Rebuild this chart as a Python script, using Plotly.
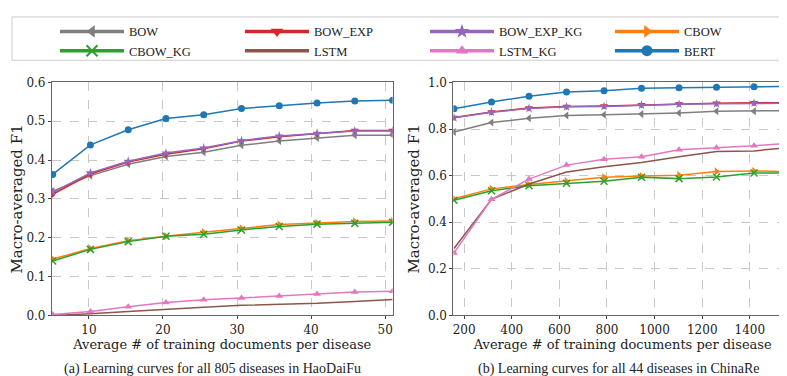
import plotly.graph_objects as go

# ---- data ----
x_left = [5.1, 10.2, 15.3, 20.4, 25.5, 30.6, 35.7, 40.8, 45.9, 51.0]
x_right = [157.5, 315, 472.5, 630, 787.5, 945, 1102.5, 1260, 1417.5, 1575]

series_names = ["BOW", "BOW_EXP", "BOW_EXP_KG", "CBOW", "CBOW_KG", "LSTM", "LSTM_KG", "BERT"]

left_BOW = [0.320, 0.360, 0.389, 0.409, 0.420, 0.438, 0.449, 0.457, 0.464, 0.464]
left_BOW_EXP = [0.312, 0.364, 0.395, 0.415, 0.429, 0.449, 0.460, 0.468, 0.476, 0.476]
left_BOW_EXP_KG = [0.317, 0.367, 0.397, 0.418, 0.431, 0.450, 0.462, 0.469, 0.475, 0.475]
left_CBOW = [0.145, 0.172, 0.192, 0.204, 0.214, 0.224, 0.234, 0.238, 0.242, 0.243]
left_CBOW_KG = [0.140, 0.170, 0.190, 0.204, 0.209, 0.220, 0.229, 0.235, 0.237, 0.240]
left_LSTM = [0.000, 0.004, 0.010, 0.016, 0.021, 0.026, 0.028, 0.031, 0.036, 0.041]
left_LSTM_KG = [0.002, 0.010, 0.022, 0.033, 0.040, 0.045, 0.050, 0.055, 0.060, 0.062]
left_BERT = [0.363, 0.439, 0.478, 0.507, 0.517, 0.533, 0.540, 0.547, 0.552, 0.554]

right_BOW = [0.787, 0.828, 0.846, 0.858, 0.861, 0.864, 0.869, 0.876, 0.876, 0.879]
right_BOW_EXP = [0.849, 0.873, 0.890, 0.897, 0.899, 0.904, 0.908, 0.911, 0.913, 0.912]
right_BOW_EXP_KG = [0.848, 0.872, 0.888, 0.895, 0.897, 0.902, 0.906, 0.908, 0.911, 0.911]
right_CBOW = [0.501, 0.543, 0.562, 0.576, 0.593, 0.598, 0.602, 0.618, 0.620, 0.617]
right_CBOW_KG = [0.494, 0.535, 0.556, 0.567, 0.576, 0.593, 0.587, 0.594, 0.611, 0.611]
right_LSTM = [0.287, 0.498, 0.564, 0.615, 0.638, 0.656, 0.681, 0.703, 0.706, 0.722]
right_LSTM_KG = [0.268, 0.498, 0.585, 0.645, 0.670, 0.681, 0.711, 0.719, 0.728, 0.740]
right_BERT = [0.887, 0.916, 0.941, 0.959, 0.964, 0.975, 0.977, 0.979, 0.981, 0.983]

left_data = [left_BOW, left_BOW_EXP, left_BOW_EXP_KG, left_CBOW, left_CBOW_KG, left_LSTM, left_LSTM_KG, left_BERT]
right_data = [right_BOW, right_BOW_EXP, right_BOW_EXP_KG, right_CBOW, right_CBOW_KG, right_LSTM, right_LSTM_KG, right_BERT]

x_title = "Average # of training documents per disease"
y_title = "Macro-averaged F1"
caption_left = "(a) Learning curves for all 805 diseases in HaoDaiFu"
caption_right = "(b) Learning curves for all 44 diseases in ChinaRe"

# ---- styles ----
colors = ["#7f7f7f", "#d62728", "#9467bd", "#ff7f0e", "#2ca02c", "#8c564b", "#e377c2", "#1f77b4"]
symbols = ["triangle-left", "triangle-down", "star", "triangle-right", "x-thin", None, "triangle-up", "circle"]

fig = go.Figure()

def marker_for(i, size, lw=1.5):
    sym = symbols[i]
    if sym is None:
        return dict(size=size, opacity=0)
    m = dict(symbol=sym, size=size, color=colors[i])
    if sym == "x-thin":
        m["line"] = dict(color=colors[i], width=lw)
    return m

for i, name in enumerate(series_names):
    mode = "lines" if symbols[i] is None else "lines+markers"
    fig.add_trace(go.Scatter(x=x_left, y=left_data[i], mode=mode, name=name,
                             line=dict(color=colors[i], width=1.5),
                             marker=marker_for(i, 7), showlegend=False,
                             xaxis="x", yaxis="y"))
    fig.add_trace(go.Scatter(x=x_right, y=right_data[i], mode=mode, name=name,
                             line=dict(color=colors[i], width=1.5),
                             marker=marker_for(i, 7), showlegend=False,
                             xaxis="x2", yaxis="y2"))

# legend-only traces with thicker lines
for i, name in enumerate(series_names):
    mode = "lines" if symbols[i] is None else "lines+markers"
    fig.add_trace(go.Scatter(x=[None], y=[None], mode=mode, name=name,
                             line=dict(color=colors[i], width=3.5),
                             marker=marker_for(i, 11, 2), showlegend=True,
                             xaxis="x", yaxis="y"))

axis_common = dict(
    showline=True, linecolor="#666", linewidth=1, mirror=True,
    showgrid=True, gridcolor="#c8c8c8", griddash="dash", gridwidth=1,
    ticks="outside", ticklen=3, tickcolor="#444",
    tickfont=dict(family="DejaVu Serif", size=12, color="#222"),
    zeroline=False,
)
xtitle_font = dict(family="DejaVu Serif", size=13, color="#222")
ytitle_font = dict(family="DejaVu Serif", size=15, color="#222")

fig.update_layout(
    width=787, height=376,
    margin=dict(l=0, r=0, t=0, b=0),
    paper_bgcolor="white", plot_bgcolor="white",
    xaxis=dict(domain=[0.0546, 0.488], range=[5.0, 51.0], tickvals=[10, 20, 30, 40, 50],
               title=dict(text=x_title, font=xtitle_font, standoff=3), **axis_common),
    yaxis=dict(domain=[0.1702, 0.8138], range=[0, 0.6], tickvals=[0, 0.1, 0.2, 0.3, 0.4, 0.5, 0.6],
               tickformat=".1f", title=dict(text=y_title, font=ytitle_font, standoff=4), **axis_common),
    xaxis2=dict(domain=[0.5654, 0.9962], range=[155, 1577], tickvals=[200, 400, 600, 800, 1000, 1200, 1400],
                title=dict(text=x_title, font=xtitle_font, standoff=3), anchor="y2", **axis_common),
    yaxis2=dict(domain=[0.1702, 0.8138], range=[0, 1.0], tickvals=[0, 0.2, 0.4, 0.6, 0.8, 1.0],
                tickformat=".1f", anchor="x2", title=dict(text=y_title, font=ytitle_font, standoff=4),
                **axis_common),
    legend=dict(orientation="h", x=0.062, y=0.995, xanchor="left", yanchor="top",
                entrywidth=106, entrywidthmode="pixels", itemwidth=64,
                borderwidth=0, bgcolor="rgba(0,0,0,0)",
                font=dict(family="Liberation Serif", size=12.5, color="#222"),
                tracegroupgap=0, traceorder="normal"),
    shapes=[dict(type="rect", xref="paper", yref="paper", x0=3 / 787, x1=784 / 787,
                 y0=1 - 47 / 376, y1=1 - 2 / 376, line=dict(color="#cccccc", width=1),
                 layer="below")],
    annotations=[
        dict(text=caption_left, xref="paper", yref="paper", x=0.2595, y=0.0213, xanchor="center",
             yanchor="middle", showarrow=False, font=dict(family="Liberation Serif", size=14, color="#222")),
        dict(text=caption_right, xref="paper", yref="paper", x=0.775, y=0.0213, xanchor="center",
             yanchor="middle", showarrow=False, font=dict(family="Liberation Serif", size=14, color="#222")),
    ],
)

fig.write_html("out.html")
